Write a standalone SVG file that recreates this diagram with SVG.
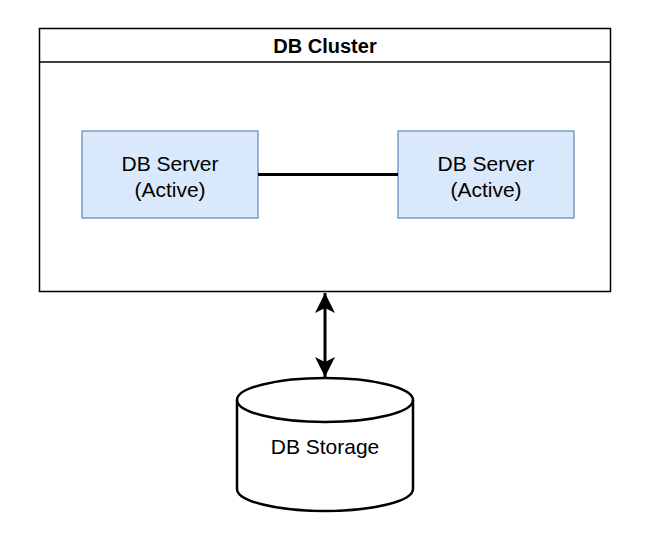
<svg xmlns="http://www.w3.org/2000/svg" width="665" height="549" viewBox="0 0 665 549">
<style>
text{font-family:"Liberation Sans",Arial,sans-serif;fill:#000;text-anchor:middle}
.lbl{font-size:21px}
.server{fill:#dae8fc;stroke:#6c8ebf;stroke-width:1.3}
.edge{stroke:#000;stroke-width:3;fill:none}
</style>
<defs>
<marker id="arr" viewBox="0 0 20 20" refX="20" refY="10" markerWidth="20" markerHeight="20" markerUnits="userSpaceOnUse" orient="auto-start-reverse">
<path d="M0,0 L20,10 L0,20 L5,10 Z" fill="#000"/>
</marker>
</defs>
<rect width="665" height="549" fill="#fff"/>
<g id="cluster">
<rect x="39.5" y="28.5" width="571" height="263" fill="#fff" stroke="#000" stroke-width="1.5"/>
<line x1="39.5" y1="62" x2="610.5" y2="62" stroke="#000" stroke-width="1.5"/>
<text x="325" y="53" style="font-size:20px;font-weight:bold">DB Cluster</text>
</g>
<g id="server1">
<rect class="server" x="82" y="131" width="176" height="87"/>
<text class="lbl" x="170" y="171">DB Server</text>
<text class="lbl" x="170" y="197">(Active)</text>
</g>
<g id="server2">
<rect class="server" x="398" y="131" width="176" height="87"/>
<text class="lbl" x="486" y="171">DB Server</text>
<text class="lbl" x="486" y="197">(Active)</text>
</g>
<g id="storage">
<path d="M237,400 L237,489 A88,22 0 0 0 413,489 L413,400 A88,22 0 0 0 237,400 Z" fill="#fff" stroke="#000" stroke-width="2.5"/>
<path d="M237,400 A88,22 0 0 0 413,400" fill="none" stroke="#000" stroke-width="2.5"/>
<text class="lbl" x="325" y="454">DB Storage</text>
</g>
<g id="connectors">
<line class="edge" x1="258" y1="174.5" x2="398" y2="174.5"/>
<line class="edge" x1="325" y1="293" x2="325" y2="377" marker-start="url(#arr)" marker-end="url(#arr)"/>
</g>
</svg>
